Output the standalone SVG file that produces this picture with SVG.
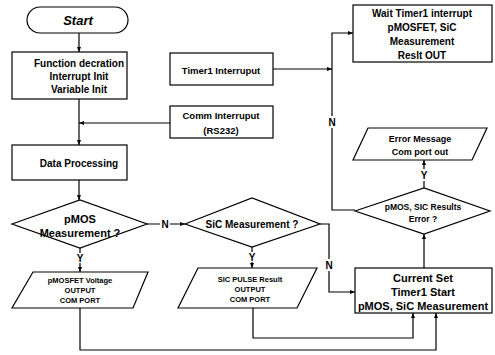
<svg xmlns="http://www.w3.org/2000/svg" width="495" height="355" viewBox="0 0 495 355">
<defs>
<style>
.s{fill:#fff;stroke:#000;stroke-width:1.2}
.c{fill:none;stroke:#000;stroke-width:1.2}
text{font-family:"Liberation Sans",Arial,sans-serif;font-weight:bold;fill:#000;text-anchor:middle}
.lbl{font-size:10px}
</style>
<marker id="ar" viewBox="0 0 10 10" refX="10" refY="5" markerWidth="5" markerHeight="5" orient="auto" markerUnits="userSpaceOnUse"><path d="M0,1 L10,5 L0,9 Z" fill="#000"/></marker>
</defs>
<rect width="495" height="355" fill="#fff"/>
<g id="connectors">
<path class="c" d="M79,33 V52" marker-end="url(#ar)"/>
<path class="c" d="M79,99 V145" marker-end="url(#ar)"/>
<path class="c" d="M170,123 H79" marker-end="url(#ar)"/>
<path class="c" d="M79,180 V200" marker-end="url(#ar)"/>
<path class="c" d="M147,224 H160 M170,224 H185" marker-end="url(#ar)"/>
<path class="c" d="M80,248 V253 M80,263 V272" marker-end="url(#ar)"/>
<path class="c" d="M252,247 V252 M252,262 V268" marker-end="url(#ar)"/>
<path class="c" d="M320,224 H329 V259 M329,271 V292 H355" marker-end="url(#ar)"/>
<path class="c" d="M253,308 V338 H413 V313" marker-end="url(#ar)"/>
<path class="c" d="M80,308 V350 H436 V313" marker-end="url(#ar)"/>
<path class="c" d="M424,268 V234" marker-end="url(#ar)"/>
<path class="c" d="M424,188 V181 M424,169 V160" marker-end="url(#ar)"/>
<path class="c" d="M355,210 H332 V128 M332,116 V33 H353" marker-end="url(#ar)"/>
<path class="c" d="M273,69 H332" marker-end="url(#ar)"/>
<text class="lbl" x="165" y="227.5">N</text>
<text class="lbl" x="80" y="261.5">Y</text>
<text class="lbl" x="252" y="260.5">Y</text>
<text class="lbl" x="329" y="268.5">N</text>
<text class="lbl" x="424" y="178.5">Y</text>
<text class="lbl" x="332" y="125.5">N</text>
</g>
<g id="start">
<rect class="s" x="27" y="7" width="101" height="26" rx="13"/>
<text x="78" y="24.5" font-size="13" font-style="italic">Start</text>
</g>
<g id="init">
<rect class="s" x="12" y="52" width="115" height="47"/>
<text font-size="10" x="79" y="66.5">Function decration</text>
<text font-size="10" x="79" y="79.5">Interrupt Init</text>
<text font-size="10" x="79" y="92.5">Variable Init</text>
</g>
<g id="timer1">
<rect class="s" x="170" y="53" width="103" height="32"/>
<text font-size="9.5" x="221" y="74">Timer1 Interruput</text>
</g>
<g id="comm">
<rect class="s" x="170" y="106" width="103" height="32"/>
<text font-size="9.5" x="221" y="118.5">Comm Interruput</text>
<text font-size="9.5" x="221" y="133.5">(RS232)</text>
</g>
<g id="wait">
<rect class="s" x="353" y="5" width="139" height="57"/>
<text font-size="10" x="422" y="16.5">Wait Timer1 interrupt</text>
<text font-size="10" x="422" y="30.5">pMOSFET, SiC</text>
<text font-size="10" x="422" y="44.5">Measurement</text>
<text font-size="10" x="422" y="58.5">Reslt OUT</text>
</g>
<g id="data">
<rect class="s" x="12" y="145" width="115" height="35"/>
<text font-size="10" x="79" y="166.5">Data Processing</text>
</g>
<g id="pmos-q">
<polygon class="s" points="12,224 80,200 147,224 80,248"/>
<text font-size="11" x="80" y="223">pMOS</text>
<text font-size="11" x="80" y="237">Measurement ?</text>
</g>
<g id="sic-q">
<polygon class="s" points="185,224 252,198 320,224 252,247"/>
<text font-size="10" x="252" y="227.5">SiC Measurement ?</text>
</g>
<g id="pmos-out">
<polygon class="s" points="33,272 148,272 133,308 12,308"/>
<text font-size="7.5" x="80" y="283">pMOSFET Voltage</text>
<text font-size="7.5" x="80" y="293">OUTPUT</text>
<text font-size="7.5" x="80" y="303">COM PORT</text>
</g>
<g id="sic-out">
<polygon class="s" points="198,268 317,268 297,308 178,308"/>
<text font-size="7.5" x="250" y="282">SIC PULSE Result</text>
<text font-size="7.5" x="250" y="292">OUTPUT</text>
<text font-size="7.5" x="250" y="302">COM PORT</text>
</g>
<g id="error-msg">
<polygon class="s" points="368,128 487,128 472,160 353,160"/>
<text font-size="9" font-weight="normal" x="420" y="142">Error Message</text>
<text font-size="9" font-weight="normal" x="420" y="155">Com port out</text>
</g>
<g id="error-q">
<polygon class="s" points="355,211 424,188 490,211 424,234"/>
<text font-size="8.5" x="423" y="210">pMOS, SIC Results</text>
<text font-size="8.5" x="423" y="222">Error ?</text>
</g>
<g id="current">
<rect class="s" x="355" y="268" width="137" height="45"/>
<text font-size="11" x="423" y="282">Current Set</text>
<text font-size="11" x="423" y="296">Timer1 Start</text>
<text font-size="11" x="423" y="310">pMOS, SiC Measurement</text>
</g>
</svg>
